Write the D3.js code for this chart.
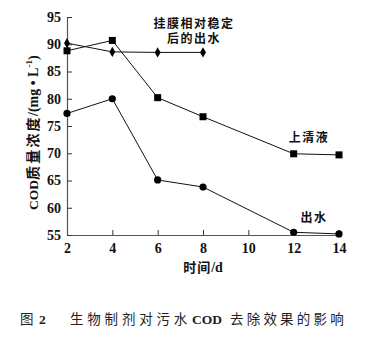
<!DOCTYPE html>
<html>
<head>
<meta charset="utf-8">
<script src="https://cdn.jsdelivr.net/npm/d3@7/dist/d3.min.js"></script>
<style>
  html, body { margin: 0; padding: 0; background: #fff; }
  svg { display: block; }
</style>
</head>
<body>
<svg id="chart" width="369" height="338"></svg>
<script>
// Time points (days) and COD mass concentration (mg/L)
const days = [2, 4, 6, 8, 10, 12, 14];
const stableDays = [2, 4, 6, 8];
const stableEffluent = [90.2, 88.6, 88.5, 88.5];
const seriesDays = [2, 4, 6, 8, 12, 14];
const supernatant = [88.8, 90.7, 80.2, 76.7, 69.9, 69.7];
const effluent = [77.3, 80.0, 65.1, 63.8, 55.5, 55.2];
const yTicks = [55, 60, 65, 70, 75, 80, 85, 90, 95];

const svg = d3.select("#chart");
const serif = "'Liberation Serif', 'Times New Roman', serif";
const cjk = "'Noto Sans CJK SC', sans-serif";

const x = d3.scaleLinear().domain([2, 14]).range([67, 339]);
const y = d3.scaleLinear().domain([55, 95]).range([235, 17]);

// Axes with inward ticks
const gx = svg.append("g").attr("transform", `translate(0,${y(55)})`)
  .call(d3.axisBottom(x).tickValues(days).tickSizeInner(-5).tickSizeOuter(0).tickPadding(8));
const gy = svg.append("g").attr("transform", `translate(${x(2)},0)`)
  .call(d3.axisLeft(y).tickValues(yTicks).tickSizeInner(-5).tickSizeOuter(0).tickPadding(6));

[gx, gy].forEach(g => {
  g.select(".domain").attr("stroke", "#555").attr("stroke-width", 1.2);
  g.selectAll(".tick line").attr("stroke", "#333").attr("stroke-width", 1);
  g.selectAll(".tick text").attr("font-family", serif).attr("font-weight", "bold")
    .attr("font-size", 14).attr("fill", "#111");
});
gx.select(".domain").attr("d", `M${x(2)},0.5H${x(14) + 3}`);

// Lines
const line = d3.line().x(d => x(d[0])).y(d => y(d[1]));
function drawLine(xs, ys) {
  svg.append("path").datum(xs.map((d, i) => [d, ys[i]]))
    .attr("d", line).attr("fill", "none").attr("stroke", "#111").attr("stroke-width", 1);
}
drawLine(stableDays, stableEffluent);
drawLine(seriesDays, supernatant);
drawLine(seriesDays, effluent);

// Markers
svg.append("g").selectAll("path").data(stableDays.map((d, i) => [d, stableEffluent[i]]))
  .join("path")
  .attr("transform", d => `translate(${x(d[0])},${y(d[1])})`)
  .attr("d", d3.symbol(d3.symbolDiamond, 30))
  .attr("fill", "#000");
svg.append("g").selectAll("rect").data(seriesDays.map((d, i) => [d, supernatant[i]]))
  .join("rect")
  .attr("x", d => x(d[0]) - 3.5).attr("y", d => y(d[1]) - 3.5)
  .attr("width", 7).attr("height", 7).attr("fill", "#000");
svg.append("g").selectAll("circle").data(seriesDays.map((d, i) => [d, effluent[i]]))
  .join("circle")
  .attr("cx", d => x(d[0])).attr("cy", d => y(d[1])).attr("r", 3.6)
  .attr("fill", "#000");

// Series labels
function label(lines, cx, cy) {
  const t = svg.append("text").attr("text-anchor", "middle")
    .attr("font-family", cjk).attr("font-weight", "bold").attr("font-size", 12)
    .attr("letter-spacing", 1.5).attr("fill", "#111");
  lines.forEach((s, i) => t.append("tspan").attr("x", cx).attr("y", cy + i * 14.5).text(s));
}
label(["挂膜相对稳定", "后的出水"], 194, 28);
label(["上清液"], 309, 142);
label(["出水"], 314, 222);

// Axis titles
svg.append("text").attr("x", 203).attr("y", 272).attr("text-anchor", "middle")
  .attr("font-weight", "bold").attr("font-size", 14).attr("fill", "#111")
  .call(t => {
    t.append("tspan").attr("font-family", cjk).attr("font-size", 13).attr("letter-spacing", 1).text("时间");
    t.append("tspan").attr("font-family", serif).text("/d");
  });

// Rotated y title: rotated x runs upward, so x = -screenY
const yt = svg.append("text")
  .attr("transform", "translate(38,0) rotate(-90)")
  .attr("font-weight", "bold").attr("font-size", 14).attr("fill", "#111");
yt.append("tspan").attr("x", -210).attr("font-family", serif).attr("font-size", 13.5).text("COD");
yt.append("tspan").attr("x", -180).attr("font-family", cjk).attr("letter-spacing", 2.2).text("质量浓度");
yt.append("tspan").attr("x", -116).attr("font-family", serif).text("/(mg • L");
yt.append("tspan").attr("font-family", serif).attr("font-size", 9).attr("dy", -6).text("-1");
yt.append("tspan").attr("font-family", serif).attr("dy", 6).text(")");

// Caption
const cap = svg.append("text").attr("y", 324)
  .attr("font-size", 13.5).attr("fill", "#222");
cap.append("tspan").attr("x", 20).attr("font-family", cjk).text("图");
cap.append("tspan").attr("x", 39).attr("font-family", serif).attr("font-weight", "bold").text("2");
cap.append("tspan").attr("x", 70).attr("font-family", cjk).attr("letter-spacing", 3.8).text("生物制剂对污水");
cap.append("tspan").attr("x", 192).attr("font-family", serif).attr("font-weight", "bold").text("COD");
cap.append("tspan").attr("x", 230).attr("font-family", cjk).attr("letter-spacing", 3.2).text("去除效果的影响");
</script>
</body>
</html>
